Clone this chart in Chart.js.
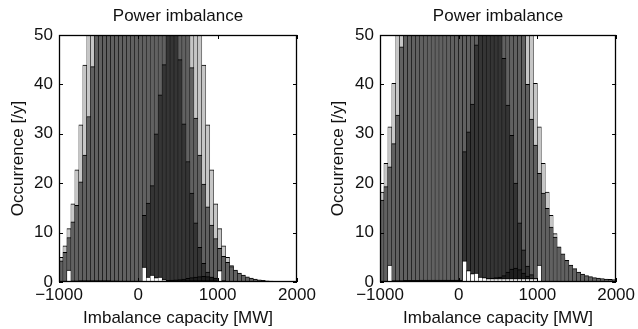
<!DOCTYPE html>
<html>
<head>
<meta charset="utf-8">
<script src="https://cdn.jsdelivr.net/npm/chart.js@4.4.0/dist/chart.umd.min.js"></script>
<style>
  html, body { margin: 0; padding: 0; background: #fff; }
  .panel { position: absolute; top: 0; }
  #left { left: 0; }
  #right { left: 320px; }
</style>
</head>
<body>
<div class="panel" id="left"><canvas id="chartLeft" width="320" height="329"></canvas></div>
<div class="panel" id="right"><canvas id="chartRight" width="318" height="329"></canvas></div>
<script>
/**
 * Power imbalance histograms (two scenarios), overlaid bar series in grey shades
 */

// bin centres [MW], 50 MW wide
const BINS = [
  -975, -925, -875, -825, -775, -725, -675, -625, -575, -525,
  -475, -425, -375, -325, -275, -225, -175, -125, -75, -25,
  25, 75, 125, 175, 225, 275, 325, 375, 425, 475,
  525, 575, 625, 675, 725, 775, 825, 875, 925, 975,
  1025, 1075, 1125, 1175, 1225, 1275, 1325, 1375, 1425, 1475,
  1525, 1575, 1625, 1675, 1725, 1775, 1825, 1875, 1925, 1975,
];
const X_TICKS = [-1000, 0, 1000, 2000];
const Y_TICKS = [0, 10, 20, 30, 40, 50];

// left panel
const LEFT_LIGHT = [
  5.0, 7.3, 10.8, 15.8, 22.7, 31.8, 43.9, 59, 78, 101,
  128, 158, 191, 225, 260, 293, 324, 350, 371, 386,
  394, 396, 394, 386, 371, 350, 324, 293, 260, 225,
  191, 158, 128, 101, 78, 59, 43.9, 31.8, 22.7, 15.8,
  10.8, 7.3, 5.0, 3.3, 2.1, 1.3, 0.8, 0.5, 0.3, 0.2,
  0.1, null, null, null, null, null, null, null, null, null,
];
const LEFT_MID = [
  4.3, 6.0, 9.0, 12.2, 15.5, 20.3, 25.7, 33.5, 43.6, 56,
  70, 86, 103, 120, 137, 152, 165, 175, 182, 186,
  187, 185, 180, 172, 161, 148, 134, 119, 104, 89,
  76, 64, 53, 43.4, 33.2, 25.7, 19.8, 15.2, 11.5, 8.8,
  6.8, 5.2, 4.0, 3.1, 2.4, 1.8, 1.4, 1.05, 0.8, 0.6,
  0.45, 0.35, 0.26, 0.2, 0.15, 0.11, 0.08, 0.06, 0.04, 0.03,
];
const LEFT_DARK = [
  null, null, null, null, null, null, null, null, null, null,
  null, null, null, null, null, null, null, null, null, null,
  null, 13.5, 16.0, 19.5, 30, 37.9, 44, 55, 60, 56,
  45, 32, 24.4, 18, 12, 7, 3.8, 2.0, 1.0, 0.5,
  null, null, null, null, null, null, null, null, null, null,
  null, null, null, null, null, null, null, null, null, null,
];
const LEFT_WHITE = [
  null, null, 2.4, null, null, null, null, null, null, null,
  null, null, null, null, null, null, null, null, null, null,
  null, 3.0, 1.0, 1.4, 0.9, 1.0, 0.5, 0.3, 0.3, 0.3,
  0.3, 0.3, 0.3, 0.3, 0.3, 0.3, 0.3, 0.3, 0.3, 0.3,
  2.3, null, null, null, null, null, null, null, null, null,
  null, null, null, null, null, null, null, null, null, null,
];
const LEFT_BLACK = [
  0.15, 0.2, 0.2, 0.25, 0.25, 0.3, 0.3, 0.3, 0.3, 0.3,
  0.3, 0.3, 0.3, 0.25, 0.25, 0.2, 0.2, 0.2, 0.2, 0.2,
  0.2, 0.3, 0.3, 0.3, 0.3, 0.3, 0.3, 0.35, 0.4, 0.45,
  0.5, 0.6, 0.75, 0.9, 1.0, 1.1, 1.15, 1.1, 1.0, 0.8,
  0.5, 0.3, 0.15, null, null, null, null, null, null, null,
  null, null, null, null, null, null, null, null, null, null,
];

// right panel
const RIGHT_LIGHT = [
  18.2, 24.0, 31.4, 40.2, 52, 66, 82, 100, 118, 136,
  153, 168, 181, 192, 201, 208, 213, 217, 220, 222,
  223, 223, 223, 222, 220, 217, 213, 208, 201, 192,
  181, 168, 153, 136, 118, 100, 82, 66, 52, 40.2,
  31.4, 24.0, 18.2, 13.5, 9.8, 7.0, 4.9, 3.3, 2.2, 1.4,
  0.9, 0.55, 0.33, 0.2, 0.1, null, null, null, null, null,
];
const RIGHT_MID = [
  16.6, 19.3, 23.3, 28.0, 33.8, 47.6, 60, 74, 89, 104,
  118, 131, 142, 152, 160, 166, 171, 174, 176, 177,
  177, 176, 173, 169, 163, 156, 147, 137, 126, 114,
  102, 90, 79, 69, 62, 56, 50, 40, 33, 27.7,
  22.0, 18.0, 14.9, 11.1, 9.1, 7.1, 5.7, 4.4, 3.4, 2.7,
  2.0, 1.6, 1.3, 1.1, 0.9, 0.8, 0.7, 0.6, 0.55, 0.5,
];
const RIGHT_DARK = [
  null, null, null, null, null, null, null, null, null, null,
  null, null, null, null, null, null, null, null, null, null,
  null, 26.4, 30.4, 36, 48, 58, 66, 70, 70, 64,
  55, 45.3, 35.8, 29.7, 20, 12, 6.5, 3.2, 1.5, 0.7,
  null, null, null, null, null, null, null, null, null, null,
  null, null, null, null, null, null, null, null, null, null,
];
const RIGHT_WHITE = [
  null, null, 3.4, null, null, null, null, null, null, null,
  null, null, null, null, null, null, null, null, null, null,
  null, 4.3, 2.3, 1.7, 1.8, 1.0, 0.9, 0.7, 0.7, 0.7,
  0.7, 0.7, 0.7, 0.7, 0.7, 0.7, 0.7, 0.7, 0.7, 0.7,
  3.4, null, null, null, null, null, null, null, null, null,
  null, null, null, null, null, null, null, null, null, null,
];
const RIGHT_BLACK = [
  0.2, 0.2, 0.25, 0.3, 0.3, 0.3, 0.35, 0.35, 0.35, 0.35,
  0.4, 0.4, 0.4, 0.4, 0.4, 0.4, 0.4, 0.4, 0.4, 0.4,
  0.4, 0.45, 0.5, 0.5, 0.55, 0.6, 0.65, 0.7, 0.8, 0.9,
  1.0, 1.3, 2.0, 2.6, 2.8, 2.5, 1.8, 1.2, 0.7, 0.4,
  0.2, null, null, null, null, null, null, null, null, null,
  null, null, null, null, null, null, null, null, null, null,
];

const FONT = "'Liberation Sans', Arial, Helvetica, sans-serif";
const TEXT = "#111";

Chart.defaults.font.family = FONT;
Chart.defaults.font.size = 17;
Chart.defaults.color = TEXT;

function barSeries(values, fill) {
  return {
    data: BINS.map((x, i) => ({ x, y: values[i] })),
    backgroundColor: fill,
    borderColor: "#000",
    borderWidth: { top: 1, left: 0.5, right: 0.5, bottom: 0 },
    borderSkipped: false,
    grouped: false,
    barPercentage: 1,
    categoryPercentage: 1,
    clip: 0,
  };
}

// box round the plot area with inward ticks on all four sides
const axesBox = {
  id: "axesBox",
  afterDatasetsDraw(chart) {
    const { ctx, chartArea: a, scales } = chart;
    const len = 4;
    ctx.save();
    ctx.strokeStyle = "#000";
    ctx.lineWidth = 1;
    ctx.beginPath();
    X_TICKS.forEach((v) => {
      const px = Math.round(scales.x.getPixelForValue(v)) + 0.5;
      ctx.moveTo(px, a.bottom);
      ctx.lineTo(px, a.bottom - len);
      ctx.moveTo(px, a.top);
      ctx.lineTo(px, a.top + len);
    });
    Y_TICKS.forEach((v) => {
      const py = Math.round(scales.y.getPixelForValue(v)) + 0.5;
      ctx.moveTo(a.left, py);
      ctx.lineTo(a.left + len, py);
      ctx.moveTo(a.right, py);
      ctx.lineTo(a.right - len, py);
    });
    ctx.stroke();
    ctx.lineWidth = 1.3;
    ctx.strokeRect(Math.round(a.left) + 0.5, Math.round(a.top) + 0.5,
      Math.round(a.width) - 1, Math.round(a.height) - 1);
    ctx.restore();
  },
};

function makeHistogram(canvas, series, yAxisWidth, rightPad) {
  return new Chart(canvas, {
    type: "bar",
    data: {
      // front to back: dataset 0 is painted last
      datasets: [
        barSeries(series.white, "#ffffff"),
        barSeries(series.black, "#1e1e1e"),
        barSeries(series.dark, "#353535"),
        barSeries(series.mid, "#616161"),
        barSeries(series.light, "#c6c6c6"),
      ],
    },
    options: {
      responsive: false,
      animation: false,
      layout: { padding: { left: 0, right: rightPad, top: 0, bottom: 0 } },
      plugins: {
        legend: { display: false },
        tooltip: { enabled: false },
        title: {
          display: true,
          text: "Power imbalance",
          fullSize: false,
          color: TEXT,
          font: { size: 17, weight: "normal" },
          padding: { top: 6, bottom: 8.6 },
        },
      },
      scales: {
        x: {
          type: "linear",
          min: -1000,
          max: 2000,
          offset: false,
          grid: { display: false, offset: false, drawTicks: false },
          border: { display: false },
          afterBuildTicks: (s) => { s.ticks = X_TICKS.map((value) => ({ value })); },
          ticks: {
            padding: 3,
            maxRotation: 0,
            callback: (v) => (v < 0 ? "\u2212" + Math.abs(v) : String(v)),
          },
          title: {
            display: true,
            text: "Imbalance capacity [MW]",
            padding: { top: 0, bottom: 0 },
          },
          afterFit: (s) => { s.height = 47; },
        },
        y: {
          min: 0,
          max: 50,
          grid: { display: false, drawTicks: false },
          border: { display: false },
          afterBuildTicks: (s) => { s.ticks = Y_TICKS.map((value) => ({ value })); },
          ticks: { padding: 6, callback: (v) => String(v) },
          title: {
            display: true,
            text: "Occurrence [/y]",
            padding: { top: 8, bottom: 0 },
          },
          afterFit: (s) => { s.width = yAxisWidth; },
        },
      },
    },
    plugins: [axesBox],
  });
}

makeHistogram(document.getElementById("chartLeft"), {
  light: LEFT_LIGHT, mid: LEFT_MID, dark: LEFT_DARK, white: LEFT_WHITE, black: LEFT_BLACK,
}, 59, 23);

makeHistogram(document.getElementById("chartRight"), {
  light: RIGHT_LIGHT, mid: RIGHT_MID, dark: RIGHT_DARK, white: RIGHT_WHITE, black: RIGHT_BLACK,
}, 60, 20);
</script>
</body>
</html>
